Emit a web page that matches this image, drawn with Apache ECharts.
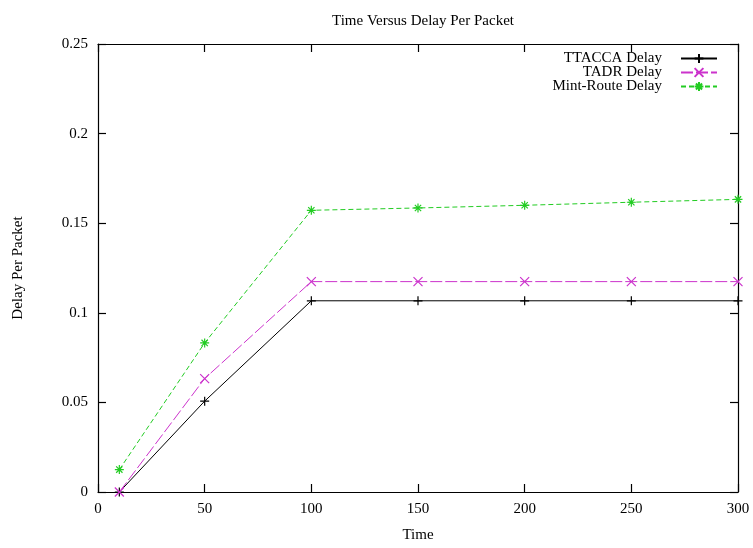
<!DOCTYPE html>
<html>
<head>
<meta charset="utf-8">
<script src="https://cdn.jsdelivr.net/npm/echarts@6/dist/echarts.min.js"></script>
<style>
  html, body { margin: 0; padding: 0; background: #fff; }
  #chart { width: 753px; height: 548px; }
</style>
</head>
<body>
<div id="chart"></div>
<script>
// Simulation time (x) and average delay per packet for each protocol
const times = [10, 50, 100, 150, 200, 250, 300];
const ttaccaDelay = [0, 0.0507, 0.1067, 0.1067, 0.1067, 0.1067, 0.1067];
const tadrDelay = [0, 0.0633, 0.1174, 0.1174, 0.1174, 0.1174, 0.1174];
const mintRouteDelay = [0.0125, 0.0832, 0.1572, 0.1585, 0.1600, 0.1617, 0.1633];

const seriesNames = ['TTACCA Delay', 'TADR Delay', 'Mint-Route Delay'];
const xTicks = { min: 0, max: 300, interval: 50 };
const yTicks = { min: 0, max: 0.25, interval: 0.05 };

const FONT = '"Liberation Serif", "DejaVu Serif", serif';

// gnuplot-style point glyphs: plus, cross, asterisk (stroked paths)
const PLUS = 'path://M0,5L10,5M5,0L5,10';
const CROSS = 'path://M0,0L10,10M10,0L0,10';
const STAR = 'path://M0,5L10,5M5,0L5,10M1.5,1.5L8.5,8.5M8.5,1.5L1.5,8.5';

function pairs(values) {
  return times.map((t, i) => [t, values[i]]);
}

function makeSeries(name, values, color, dash, symbol) {
  return {
    name: name,
    type: 'line',
    data: pairs(values),
    symbol: symbol,
    symbolSize: 9,
    showSymbol: true,
    animation: false,
    lineStyle: { color: color, width: 1, type: dash },
    itemStyle: { color: 'rgba(0,0,0,0)', borderColor: color, borderWidth: 1.2 },
    emphasis: { disabled: true }
  };
}

// one legend block per entry so every key sample lines up on the right
function legendFor(name, top) {
  return {
    data: [name],
    right: 35,
    top: top,
    orient: 'vertical',
    align: 'right',
    itemWidth: 36,
    itemHeight: 11,
    padding: 0,
    selectedMode: false,
    textStyle: { fontFamily: FONT, fontSize: 15, color: '#000', padding: [0, 14, 0, 0] }
  };
}

const axisLineStyle = { onZero: false, lineStyle: { color: '#000', width: 1.2 } };
const tickStyle = { inside: true, length: 8, lineStyle: { color: '#000', width: 1.2 } };
const labelStyle = { fontFamily: FONT, fontSize: 15, color: '#000' };

const chart = echarts.init(document.getElementById('chart'), null, { renderer: 'canvas' });
chart.setOption({
  animation: false,
  backgroundColor: '#fff',
  title: {
    text: 'Time Versus Delay Per Packet',
    left: 418,
    top: 9,
    textAlign: 'center',
    textStyle: { fontFamily: FONT, fontSize: 15, fontWeight: 'normal', color: '#000' }
  },
  legend: [
    legendFor(seriesNames[0], 51),
    legendFor(seriesNames[1], 65),
    legendFor(seriesNames[2], 79)
  ],
  grid: { left: 98, right: 15, top: 44, bottom: 54, containLabel: false },
  xAxis: [
    {
      type: 'value', position: 'bottom',
      min: xTicks.min, max: xTicks.max, interval: xTicks.interval,
      name: 'Time', nameLocation: 'middle', nameGap: 36,
      nameTextStyle: { fontFamily: FONT, fontSize: 15, color: '#000' },
      axisLine: axisLineStyle, axisTick: tickStyle,
      axisLabel: Object.assign({ margin: 10 }, labelStyle),
      splitLine: { show: false }
    },
    {
      type: 'value', position: 'top',
      min: xTicks.min, max: xTicks.max, interval: xTicks.interval,
      axisLine: axisLineStyle, axisTick: tickStyle,
      axisLabel: { show: false }, splitLine: { show: false }
    }
  ],
  yAxis: [
    {
      type: 'value', position: 'left',
      min: yTicks.min, max: yTicks.max, interval: yTicks.interval,
      name: 'Delay Per Packet', nameLocation: 'middle', nameGap: 72, nameRotate: 90,
      nameTextStyle: { fontFamily: FONT, fontSize: 15, color: '#000' },
      axisLine: axisLineStyle, axisTick: tickStyle,
      axisLabel: Object.assign({ margin: 10 }, labelStyle),
      splitLine: { show: false }
    },
    {
      type: 'value', position: 'right',
      min: yTicks.min, max: yTicks.max, interval: yTicks.interval,
      axisLine: axisLineStyle, axisTick: tickStyle,
      axisLabel: { show: false }, splitLine: { show: false }
    }
  ],
  series: [
    makeSeries(seriesNames[0], ttaccaDelay, '#000000', 'solid', PLUS),
    makeSeries(seriesNames[1], tadrDelay, '#cc33cc', [12, 3], CROSS),
    makeSeries(seriesNames[2], mintRouteDelay, '#22cc22', [5, 3], STAR)
  ]
});
</script>
</body>
</html>
